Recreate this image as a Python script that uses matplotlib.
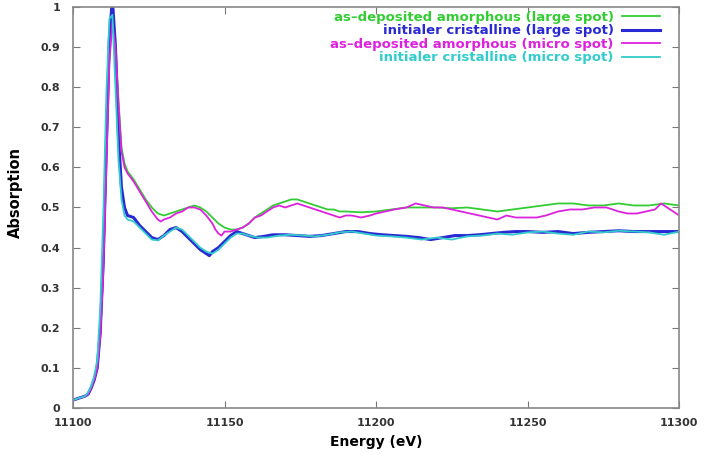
import matplotlib
matplotlib.use("Agg")
import matplotlib.pyplot as plt

plt.rcParams['font.family'] = ['DejaVu Sans']

# --- data -------------------------------------------------------------
edge_e = [11100, 11102, 11104, 11105, 11106, 11107, 11108, 11109, 11110, 11111, 11112, 11113]

amo_large_e = edge_e + [11114, 11115, 11116, 11117, 11118, 11120, 11122, 11124, 11126, 11128, 11130,
    11132, 11134, 11136, 11138, 11140, 11142, 11144, 11146, 11148, 11150, 11152, 11154, 11156,
    11158, 11160, 11162, 11164, 11166, 11168, 11170, 11172, 11174, 11176, 11178, 11180, 11182,
    11184, 11186, 11188, 11190, 11195, 11200, 11205, 11210, 11215, 11220, 11225, 11230, 11235,
    11240, 11245, 11250, 11255, 11260, 11265, 11270, 11275, 11280, 11285, 11290, 11295, 11300]
amo_large_y = [0.02, 0.025, 0.03, 0.035, 0.05, 0.07, 0.10, 0.18, 0.35, 0.62, 0.88, 0.99,
    0.92, 0.77, 0.65, 0.61, 0.59, 0.57, 0.545, 0.52, 0.50, 0.485, 0.48,
    0.485, 0.49, 0.495, 0.50, 0.505, 0.50, 0.49, 0.475, 0.46, 0.45, 0.445, 0.445, 0.45,
    0.46, 0.475, 0.485, 0.495, 0.505, 0.51, 0.515, 0.52, 0.52, 0.515, 0.51, 0.505, 0.50,
    0.495, 0.495, 0.49, 0.49, 0.488, 0.49, 0.495, 0.50, 0.50, 0.50, 0.498, 0.50, 0.495,
    0.49, 0.495, 0.50, 0.505, 0.51, 0.51, 0.505, 0.505, 0.51, 0.505, 0.505, 0.51, 0.505]

cri_large_e = edge_e + [11114, 11115, 11116, 11117, 11118, 11120, 11122, 11124, 11126, 11128, 11130,
    11132, 11134, 11136, 11138, 11140, 11142, 11144, 11145, 11146, 11148, 11150, 11152, 11154,
    11156, 11158, 11160, 11163, 11166, 11170, 11174, 11178, 11182, 11186, 11190, 11194, 11198,
    11202, 11206, 11210, 11214, 11218, 11222, 11226, 11230, 11234, 11238, 11242, 11246, 11250,
    11255, 11260, 11265, 11270, 11275, 11280, 11285, 11290, 11295, 11300]
cri_large_y = [0.02, 0.025, 0.03, 0.035, 0.05, 0.07, 0.10, 0.19, 0.37, 0.65, 0.92, 1.02,
    0.90, 0.68, 0.55, 0.50, 0.48, 0.475, 0.455, 0.44, 0.425, 0.42, 0.43,
    0.445, 0.45, 0.44, 0.425, 0.41, 0.395, 0.385, 0.38, 0.39, 0.40, 0.415, 0.43, 0.44,
    0.435, 0.43, 0.425, 0.428, 0.432, 0.432, 0.43, 0.428, 0.43, 0.435, 0.44, 0.44, 0.435,
    0.432, 0.43, 0.428, 0.425, 0.42, 0.425, 0.43, 0.43, 0.432, 0.435, 0.438, 0.44, 0.44,
    0.438, 0.44, 0.435, 0.438, 0.44, 0.442, 0.44, 0.44, 0.44, 0.44]

amo_micro_e = edge_e + [11114, 11115, 11116, 11117, 11118, 11120, 11122, 11124, 11126, 11128, 11129,
    11130, 11132, 11134, 11136, 11138, 11140, 11142, 11144, 11146, 11147, 11148, 11149, 11150,
    11152, 11154, 11156, 11158, 11160, 11162, 11164, 11166, 11168, 11170, 11172, 11174, 11176,
    11178, 11180, 11182, 11184, 11186, 11188, 11190, 11192, 11195, 11198, 11200, 11203, 11206,
    11210, 11213, 11216, 11219, 11222, 11225, 11228, 11231, 11234, 11237, 11240, 11243, 11246,
    11250, 11253, 11256, 11260, 11264, 11268, 11272, 11276, 11280, 11283, 11286, 11289, 11292,
    11294, 11296, 11298, 11300]
amo_micro_y = [0.02, 0.025, 0.03, 0.035, 0.05, 0.07, 0.10, 0.18, 0.34, 0.60, 0.86, 0.96,
    0.90, 0.76, 0.64, 0.60, 0.585, 0.565, 0.54, 0.515, 0.49, 0.47, 0.465,
    0.47, 0.475, 0.485, 0.49, 0.50, 0.50, 0.495, 0.48, 0.46, 0.445, 0.435, 0.43, 0.44,
    0.44, 0.445, 0.45, 0.46, 0.475, 0.48, 0.49, 0.50, 0.505, 0.50, 0.505, 0.51, 0.505,
    0.50, 0.495, 0.49, 0.485, 0.48, 0.475, 0.48, 0.48, 0.475, 0.48, 0.485, 0.49, 0.495,
    0.50, 0.51, 0.505, 0.50, 0.50, 0.495, 0.49, 0.485, 0.48, 0.475, 0.47, 0.48, 0.475,
    0.475, 0.475, 0.48, 0.49, 0.495, 0.495, 0.50, 0.50, 0.49, 0.485, 0.485, 0.49, 0.495,
    0.51, 0.50, 0.49, 0.48]

cri_micro_e = edge_e + [11114, 11115, 11116, 11117, 11118, 11120, 11122, 11124, 11126, 11128, 11130,
    11132, 11134, 11136, 11138, 11140, 11142, 11144, 11146, 11148, 11150, 11152, 11154, 11156,
    11158, 11161, 11164, 11168, 11172, 11176, 11180, 11184, 11188, 11192, 11196, 11200, 11205,
    11210, 11215, 11220, 11225, 11230, 11235, 11240, 11245, 11250, 11255, 11260, 11265, 11270,
    11275, 11280, 11285, 11290, 11295, 11300]
cri_micro_y = [0.02, 0.025, 0.03, 0.04, 0.055, 0.08, 0.12, 0.25, 0.48, 0.78, 0.97, 0.98,
    0.80, 0.62, 0.52, 0.48, 0.47, 0.465, 0.45, 0.435, 0.42, 0.418, 0.43,
    0.44, 0.45, 0.445, 0.43, 0.415, 0.40, 0.39, 0.385, 0.395, 0.41, 0.425, 0.435, 0.435,
    0.43, 0.425, 0.425, 0.43, 0.432, 0.43, 0.428, 0.432, 0.438, 0.44, 0.435, 0.43, 0.428,
    0.425, 0.42, 0.425, 0.42, 0.428, 0.43, 0.435, 0.432, 0.438, 0.44, 0.435, 0.432, 0.44,
    0.438, 0.442, 0.44, 0.438, 0.432, 0.44]

labels = ["as\u2013deposited amorphous (large spot)",
          "initialer cristalline (large spot)",
          "as\u2013deposited amorphous (micro spot)",
          "initialer cristalline (micro spot)"]
colors = ["#33cc33", "#2a2ad4", "#dd22dd", "#33cccc"]
widths = [1.3, 2.2, 1.3, 1.3]

x_ticks = [11100, 11150, 11200, 11250, 11300]
y_ticks = [0, 0.1, 0.2, 0.3, 0.4, 0.5, 0.6, 0.7, 0.8, 0.9, 1]
y_tick_labels = ["0", "0.1", "0.2", "0.3", "0.4", "0.5", "0.6", "0.7", "0.8", "0.9", "1"]

# --- figure -------------------------------------------------------------
fig = plt.figure(figsize=(7.05, 4.54), dpi=100)
ax = fig.add_axes([0.1035, 0.101, 0.860, 0.884])

series = [(amo_large_e, amo_large_y), (cri_large_e, cri_large_y),
          (amo_micro_e, amo_micro_y), (cri_micro_e, cri_micro_y)]
for (e, y), lab, c, w in zip(series, labels, colors, widths):
    ax.plot(e, y, color=c, lw=w, label=lab)

ax.set_xlim(11100, 11300)
ax.set_ylim(0, 1)
ax.set_xticks(x_ticks)
ax.set_xticklabels([str(t) for t in x_ticks], fontsize=8, fontweight='bold', color='#333333')
ax.set_yticks(y_ticks)
ax.set_yticklabels(y_tick_labels, fontsize=8, fontweight='bold', color='#333333')
ax.tick_params(direction='in', top=True, right=True, length=5, color='#777777')
ax.tick_params(axis='x', pad=7)
ax.tick_params(axis='y', pad=9)
for s in ax.spines.values():
    s.set_color('#888888')
    s.set_linewidth(1.2)

ax.set_xlabel("Energy (eV)", fontsize=10, fontweight='bold', labelpad=5)
fig.text(15 / 705, 1 - 193 / 454, "Absorption", rotation=90, fontsize=10.5,
         fontweight='bold', ha='center', va='center')

leg = ax.legend(loc='upper right', frameon=False, markerfirst=False,
                labelcolor='linecolor', prop={'size': 9.5, 'weight': 'bold'},
                handlelength=2.9, handletextpad=0.6, labelspacing=0.04,
                borderaxespad=0.0, bbox_to_anchor=(0.977, 1.003))

fig.savefig("out.png", dpi=100)
